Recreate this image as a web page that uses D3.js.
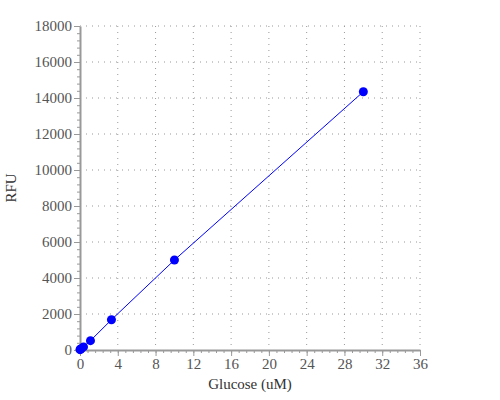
<!DOCTYPE html>
<html>
<head>
<script src="https://d3js.org/d3.v7.min.js"></script>
<style>
  body { margin: 0; background: #fff; }
</style>
</head>
<body>
<svg id="chart"></svg>
<script>
// glucose standard curve (3-fold dilutions)
var glucose = [0, 0.041, 0.123, 0.37, 1.11, 3.33, 10, 30];
var rfu = [20, 40, 70, 170, 520, 1680, 5000, 14350];
var xTicks = [0, 4, 8, 12, 16, 20, 24, 28, 32, 36];
var yTicks = [0, 2000, 4000, 6000, 8000, 10000, 12000, 14000, 16000, 18000];

var width = 500, height = 400;
var pLeft = 80, pRight = 420, pTop = 26, pBottom = 350;
var serif = "Liberation Serif, Tinos, Times New Roman, Noto Serif, DejaVu Serif, serif";

var svg = d3.select('#chart').attr('width', width).attr('height', height);

var x = d3.scaleLinear().domain([0, 36]).range([pLeft, pRight]);
var y = d3.scaleLinear().domain([0, 18000]).range([pBottom, pTop]);

// dotted grid
svg.append('g').selectAll('line')
  .data(xTicks.slice(1)).enter().append('line')
  .attr('x1', d => x(d)).attr('x2', d => x(d))
  .attr('y1', pTop).attr('y2', pBottom)
  .attr('stroke', '#999').attr('stroke-dasharray', '1,5');
svg.append('g').selectAll('line')
  .data(yTicks.slice(1)).enter().append('line')
  .attr('x1', pLeft).attr('x2', pRight)
  .attr('y1', d => y(d)).attr('y2', d => y(d))
  .attr('stroke', '#999').attr('stroke-dasharray', '1,5');

// minor ticks
var xMinor = d3.range(0, 36.01, 0.8);
var yMinor = d3.range(0, 18001, 400);

var gx = svg.append('g').attr('transform', 'translate(0,' + pBottom + ')');
gx.append('g').call(d3.axisBottom(x).tickValues(xMinor).tickSize(3).tickFormat(''))
  .call(g => g.select('.domain').remove());
gx.append('g').call(d3.axisBottom(x).tickValues(xTicks).tickSize(6).tickSizeOuter(0).tickPadding(2));

var gy = svg.append('g').attr('transform', 'translate(' + pLeft + ',0)');
gy.append('g').call(d3.axisLeft(y).tickValues(yMinor).tickSize(3).tickFormat(''))
  .call(g => g.select('.domain').remove());
gy.append('g').call(d3.axisLeft(y).tickValues(yTicks).tickSize(6).tickSizeOuter(0).tickPadding(2)
  .tickFormat(d3.format('d')));

svg.selectAll('.domain').attr('stroke', '#999').attr('stroke-width', 2);
svg.selectAll('.tick line').attr('stroke', '#999');
svg.selectAll('.tick text').attr('fill', '#555').attr('font-size', 15).attr('font-family', serif);

// line and points
var pts = glucose.map((g, i) => [g, rfu[i]]);
svg.append('path').datum(pts)
  .attr('fill', 'none').attr('stroke', '#0000ff').attr('stroke-width', 1)
  .attr('d', d3.line().x(d => x(d[0])).y(d => y(d[1])));
svg.append('g').selectAll('circle')
  .data(pts).enter().append('circle')
  .attr('cx', d => x(d[0])).attr('cy', d => y(d[1])).attr('r', 4.5)
  .attr('fill', '#0000ff');

// axis titles
svg.append('text').attr('x', (pLeft + pRight) / 2).attr('y', 389)
  .attr('text-anchor', 'middle').attr('fill', '#333')
  .attr('font-size', 15).attr('font-family', serif)
  .text('Glucose (uM)');
svg.append('text').attr('transform', 'translate(16,' + ((pTop + pBottom) / 2) + ') rotate(-90)')
  .attr('text-anchor', 'middle').attr('fill', '#333')
  .attr('font-size', 15).attr('font-family', serif)
  .text('RFU');
</script>
</body>
</html>
